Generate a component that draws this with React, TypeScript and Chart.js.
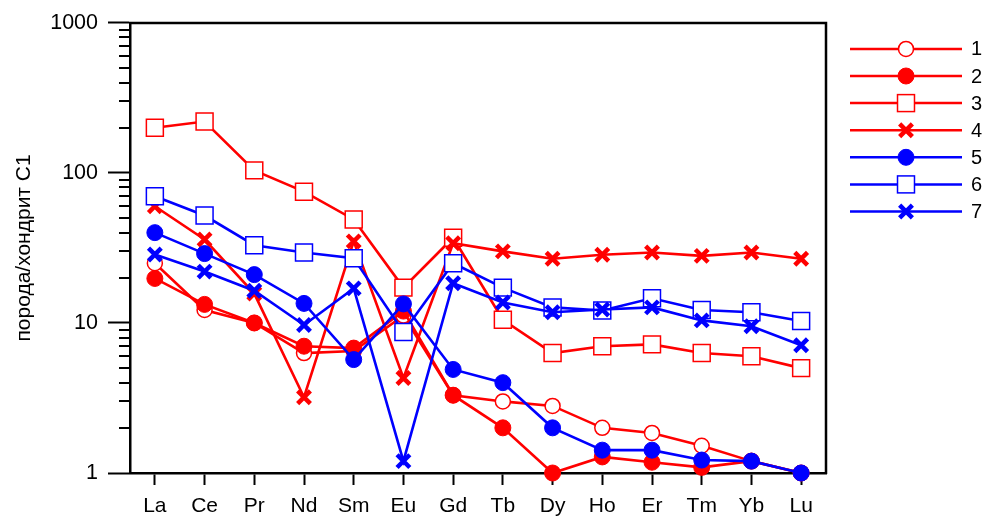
import React, { useEffect, useRef } from 'react';
import { Chart, registerables } from 'chart.js';

Chart.register(...registerables);

const elements = ['La', 'Ce', 'Pr', 'Nd', 'Sm', 'Eu', 'Gd', 'Tb', 'Dy', 'Ho', 'Er', 'Tm', 'Yb', 'Lu'];
const s1 = [25, 12.2, 10, 6.3, 6.5, 11.2, 3.3, 3.0, 2.8, 2.0, 1.85, 1.52, 1.2, 1.0];
const s2 = [19.8, 13.3, 10, 7.0, 6.8, 12, 3.3, 2.0, 1.0, 1.28, 1.18, 1.09, 1.2, 1.0];
const s3 = [200, 220, 104, 75, 49, 17.2, 37, 10.5, 6.3, 7.0, 7.2, 6.3, 6.0, 5.0];
const s4 = [60, 36, 15.7, 3.2, 35, 4.3, 34, 30, 26.8, 28.5, 29.5, 28, 29.5, 26.8];
const s5 = [40, 29, 21, 13.5, 5.7, 13.4, 4.9, 4.0, 2.0, 1.42, 1.42, 1.22, 1.2, 1.0];
const s6 = [70, 52, 33, 29.5, 27, 8.7, 25, 17.2, 12.7, 12.1, 14.6, 12.2, 11.8, 10.3];
const s7 = [28.6, 22, 16.4, 9.7, 17, 1.2, 18.4, 13.7, 11.8, 12.3, 12.7, 10.4, 9.5, 7.1];
const seriesLabels = ['1', '2', '3', '4', '5', '6', '7'];
const yTickValues = [1, 10, 100, 1000];
const yTitle = 'порода/хондрит C1';

const RED = '#ff0000';
const BLUE = '#0000ff';
const FONT = '"Liberation Sans", Arial, sans-serif';

type Marker = 'openCircle' | 'circle' | 'openSquare' | 'cross';

const seriesDefs: { data: number[]; color: string; marker: Marker }[] = [
  { data: s1, color: RED, marker: 'openCircle' },
  { data: s2, color: RED, marker: 'circle' },
  { data: s3, color: RED, marker: 'openSquare' },
  { data: s4, color: RED, marker: 'cross' },
  { data: s5, color: BLUE, marker: 'circle' },
  { data: s6, color: BLUE, marker: 'openSquare' },
  { data: s7, color: BLUE, marker: 'cross' },
];

function markerStyle(marker: Marker, color: string) {
  switch (marker) {
    case 'openCircle':
      return { pointStyle: 'circle', pointRadius: 7.5, pointBorderWidth: 1.5, pointBackgroundColor: '#ffffff', pointBorderColor: color };
    case 'circle':
      return { pointStyle: 'circle', pointRadius: 8, pointBorderWidth: 1, pointBackgroundColor: color, pointBorderColor: color };
    case 'openSquare':
      return { pointStyle: 'rect', pointRadius: 12, pointBorderWidth: 1.5, pointBackgroundColor: '#ffffff', pointBorderColor: color };
    case 'cross':
    default:
      return { pointStyle: 'crossRot', pointRadius: 9, pointBorderWidth: 4.5, pointBackgroundColor: color, pointBorderColor: color };
  }
}

function drawMarker(ctx: CanvasRenderingContext2D, marker: Marker, color: string, x: number, y: number) {
  ctx.save();
  ctx.strokeStyle = color;
  ctx.fillStyle = color;
  if (marker === 'openCircle' || marker === 'circle') {
    ctx.beginPath();
    ctx.arc(x, y, marker === 'circle' ? 8 : 7.5, 0, Math.PI * 2);
    ctx.fillStyle = marker === 'circle' ? color : '#ffffff';
    ctx.fill();
    ctx.lineWidth = marker === 'circle' ? 1 : 1.5;
    ctx.stroke();
  } else if (marker === 'openSquare') {
    const h = 12 * Math.SQRT1_2;
    ctx.fillStyle = '#ffffff';
    ctx.fillRect(x - h, y - h, 2 * h, 2 * h);
    ctx.lineWidth = 1.5;
    ctx.strokeRect(x - h, y - h, 2 * h, 2 * h);
  } else {
    const d = 9 * Math.SQRT1_2;
    ctx.lineWidth = 4.5;
    ctx.beginPath();
    ctx.moveTo(x - d, y - d);
    ctx.lineTo(x + d, y + d);
    ctx.moveTo(x - d, y + d);
    ctx.lineTo(x + d, y - d);
    ctx.stroke();
  }
  ctx.restore();
}

const framePlugin = {
  id: 'framePlugin',
  afterDraw(chart: any) {
    const ctx: CanvasRenderingContext2D = chart.ctx;
    const { left, right, top, bottom } = chart.chartArea;
    const yScale = chart.scales.y;
    ctx.save();
    // top and right frame
    ctx.strokeStyle = '#000';
    ctx.lineWidth = 2.5;
    ctx.beginPath();
    ctx.moveTo(left - 1, top);
    ctx.lineTo(right, top);
    ctx.lineTo(right, bottom + 1);
    ctx.stroke();
    // minor ticks on the log axis
    ctx.lineWidth = 2;
    for (let d = 1; d < 1000; d *= 10) {
      for (let m = 2; m <= 9; m++) {
        const y = Math.round(yScale.getPixelForValue(m * d));
        ctx.beginPath();
        ctx.moveTo(left - 11, y);
        ctx.lineTo(left, y);
        ctx.stroke();
      }
    }
    // legend
    const x0 = right + 24;
    const x1 = right + 136;
    const xm = (x0 + x1) / 2;
    seriesDefs.forEach((s, i) => {
      const y = top + 26 + i * 27.1;
      ctx.strokeStyle = s.color;
      ctx.lineWidth = 2.5;
      ctx.beginPath();
      ctx.moveTo(x0, y);
      ctx.lineTo(x1, y);
      ctx.stroke();
      drawMarker(ctx, s.marker, s.color, xm, y);
      ctx.fillStyle = '#000';
      ctx.font = `20px ${FONT}`;
      ctx.textAlign = 'left';
      ctx.textBaseline = 'middle';
      ctx.fillText(seriesLabels[i], x1 + 9, y + 1);
    });
    ctx.restore();
  },
};

export default function App() {
  const canvasRef = useRef<HTMLCanvasElement | null>(null);

  useEffect(() => {
    if (!canvasRef.current) return;
    const n = seriesDefs.length;
    const chart = new Chart(canvasRef.current, {
      type: 'line',
      data: {
        labels: elements,
        datasets: seriesDefs.map((s, i) => ({
          label: seriesLabels[i],
          data: s.data,
          borderColor: s.color,
          backgroundColor: s.color,
          borderWidth: 2.6,
          fill: false,
          tension: 0,
          clip: false,
          order: n - i,
          ...markerStyle(s.marker, s.color),
        })) as any,
      },
      options: {
        animation: false,
        responsive: true,
        maintainAspectRatio: false,
        layout: { padding: { left: 0, right: 160, top: 22, bottom: 0 } },
        plugins: {
          legend: { display: false },
          tooltip: { enabled: false },
        },
        scales: {
          x: {
            type: 'category',
            offset: true,
            afterFit: (scale: any) => {
              scale.height = 44;
            },
            grid: {
              display: true,
              drawOnChartArea: false,
              drawTicks: true,
              tickLength: 12,
              tickWidth: 2,
              tickColor: '#000',
              offset: false,
            },
            border: { display: true, color: '#000', width: 2.5 },
            ticks: {
              color: '#000',
              font: { family: FONT, size: 21 },
              padding: 9,
              maxRotation: 0,
              autoSkip: false,
            },
          },
          y: {
            type: 'logarithmic',
            min: 1,
            max: 1000,
            afterFit: (scale: any) => {
              scale.width = 130;
            },
            afterBuildTicks: (scale: any) => {
              scale.ticks = yTickValues.map((v) => ({ value: v, major: true }));
            },
            grid: {
              display: true,
              drawOnChartArea: false,
              drawTicks: true,
              tickLength: 22,
              tickWidth: 2,
              tickColor: '#000',
            },
            border: { display: true, color: '#000', width: 2.5 },
            ticks: {
              color: '#000',
              font: { family: FONT, size: 21.5 },
              padding: 10,
              autoSkip: false,
              callback: (v: any) => String(v),
            },
            title: {
              display: true,
              text: yTitle,
              color: '#000',
              font: { family: FONT, size: 21 },
              padding: { top: 12, bottom: 0 },
            },
          },
        },
      },
      plugins: [framePlugin],
    } as any);
    return () => chart.destroy();
  }, []);

  return (
    <div style={{ position: 'fixed', left: 0, top: 0, width: 986, height: 517, background: '#fff' }}>
      <canvas ref={canvasRef} />
    </div>
  );
}
